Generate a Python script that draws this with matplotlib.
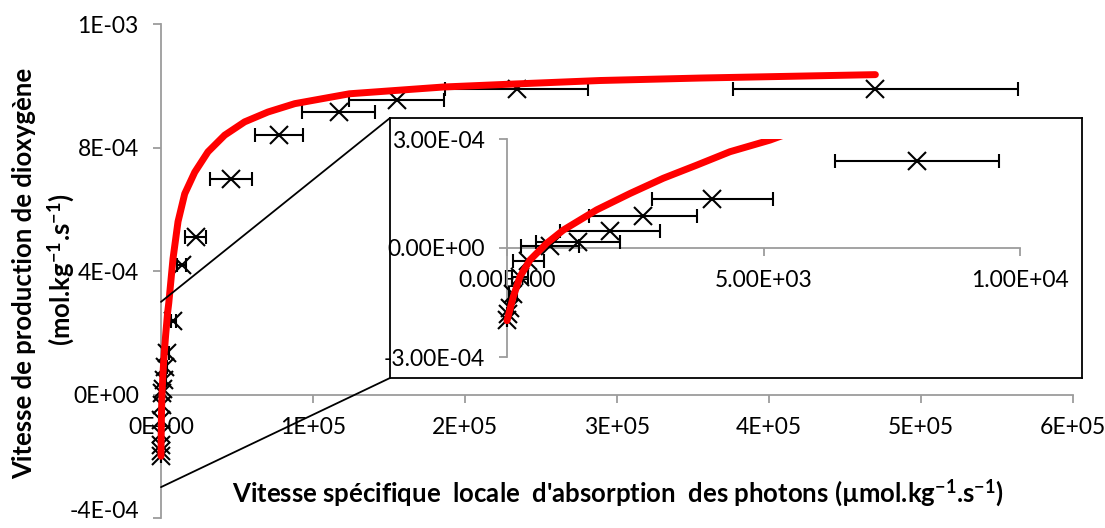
import matplotlib
matplotlib.use('Agg')
import matplotlib.pyplot as plt
from matplotlib.patches import ConnectionPatch

plt.rcParams['font.family'] = ['Lato', 'DejaVu Sans']
plt.rcParams['mathtext.fontset'] = 'custom'
plt.rcParams['mathtext.rm'] = 'Lato'
plt.rcParams['mathtext.bf'] = 'Lato:bold'
plt.rcParams['mathtext.it'] = 'Lato:italic'

# points mesures (x, y, erreur sur x)
x_mes = [470000, 234000, 155000, 117000, 77600, 46000, 22800, 13600, 8000, 4000,
         2650, 2000, 1380, 840, 416, 253, 123, 59, 20, 0]
y_mes = [9.9e-4, 9.9e-4, 9.53e-4, 9.15e-4, 8.42e-4, 6.98e-4, 5.1e-4, 4.2e-4, 2.39e-4, 1.35e-4,
         8.8e-5, 4.7e-5, 1.65e-5, 5e-6, -3.5e-5, -8.1e-5, -1.27e-4, -1.64e-4, -1.83e-4, -1.99e-4]
x_err = [94000, 47000, 31000, 24000, 15600, 14000, 7000, 3000, 1600, 1180,
         1050, 975, 820, 570, 305, 150, 80, 40, 15, 0]

# courbe du modele
x_mod = [0, 123, 253, 448, 774, 1099, 1749, 2398, 3047, 3697, 4347, 5127, 7900, 11200,
         15600, 22200, 30900, 41900, 55000, 70400, 88000, 124000, 186000, 234000, 289000,
         355000, 470000]
y_mod = [-2.0e-4, -1.34e-4, -7.9e-5, -3.3e-5, 1.3e-5, 4.95e-5, 1.05e-4, 1.5e-4, 1.92e-4,
         2.28e-4, 2.65e-4, 2.97e-4, 4.4e-4, 5.6e-4, 6.5e-4, 7.2e-4, 7.86e-4, 8.4e-4,
         8.83e-4, 9.15e-4, 9.42e-4, 9.74e-4, 9.96e-4, 1.006e-3, 1.017e-3, 1.025e-3, 1.036e-3]

xticks = [0, 1e5, 2e5, 3e5, 4e5, 5e5, 6e5]
xlabels = ['0E+00', '1E+05', '2E+05', '3E+05', '4E+05', '5E+05', '6E+05']
yticks = [-4e-4, 0, 4e-4, 8e-4, 1.2e-3]
ylabels = ['-4E-04', '0E+00', '4E-04', '8E-04', '1E-03']
zx_ticks = [0, 5e3, 1e4]
zx_labels = ['0.00E+00', '5.00E+03', '1.00E+04']
zy_ticks = [-3e-4, 0, 3e-4]
zy_labels = ['-3.00E-04', '0.00E+00', '3.00E-04']

W, H = 1105, 528
fig = plt.figure(figsize=(W / 100, H / 100), dpi=100)


def rect(l, t, r, b):
    return [l / W, 1 - b / H, (r - l) / W, (b - t) / H]


gris = '#9c9c9c'


def style(a):
    a.spines['top'].set_visible(False)
    a.spines['right'].set_visible(False)
    a.spines['bottom'].set_position(('data', 0))
    for s in ['left', 'bottom']:
        a.spines[s].set_color(gris)
        a.spines[s].set_linewidth(1.3)
    a.tick_params(direction='out', length=6, width=1.3, color=gris,
                  labelsize=16.5, pad=10, labelcolor='black')
    a.patch.set_alpha(0)


def trace(a, clip):
    eb = a.errorbar(x_mes, y_mes, xerr=x_err, fmt='x', color='black', ms=13, mew=1.5,
                    elinewidth=1.5, capsize=5, capthick=1.5, zorder=3)
    line, caps, bars = eb
    for art in [line, *caps, *bars]:
        art.set_clip_on(clip)
    a.plot(x_mod, y_mod, color='red', lw=5, solid_capstyle='round',
           solid_joinstyle='round', zorder=4, clip_on=clip)


# graphe principal
ax = fig.add_axes(rect(161, 24, 1073, 518))
style(ax)
trace(ax, False)
ax.set_xlim(0, 6e5)
ax.set_ylim(-4e-4, 1.2e-3)
ax.set_xticks(xticks)
ax.set_xticklabels(xlabels)
ax.set_yticks(yticks)
ax.set_yticklabels(ylabels)
# dernier label en bas : remonte un peu pour rester dans l'image
ax.get_yticklabels()[0].set_verticalalignment('baseline')

# cadre du zoom
cadre = fig.add_axes(rect(390, 118, 1082, 378), zorder=2)
cadre.set_xticks([])
cadre.set_yticks([])
for s in cadre.spines.values():
    s.set_color('black')
    s.set_linewidth(1.3)

# zoom
x0 = -400
left_px = 507 + x0 * 513 / 1e4
ax2 = fig.add_axes(rect(left_px, 139, 1020, 357), zorder=3)
style(ax2)
ax2.spines['left'].set_position(('data', 0))
ax2.spines['bottom'].set_bounds(0, 1e4)
trace(ax2, True)
ax2.set_xlim(x0, 1e4)
ax2.set_ylim(-3e-4, 3e-4)
ax2.set_xticks(zx_ticks)
ax2.set_xticklabels(zx_labels)
ax2.set_yticks(zy_ticks)
ax2.set_yticklabels(zy_labels)

for ya, yb in [(3e-4, 1), (-3e-4, 0)]:
    con = ConnectionPatch(xyA=(0, ya), coordsA=ax.transData, xyB=(0, yb),
                          coordsB=cadre.transAxes, color='black', lw=1.3, zorder=1.5)
    fig.add_artist(con)

fig.text(618 / W, 1 - 493 / H,
         "Vitesse spécifique  locale  d'absorption  des photons (µmol.kg$^{\\mathbf{-1}}$.s$^{\\mathbf{-1}}$)",
         ha='center', va='center', fontsize=18.5, fontweight='bold')
fig.text(24 / W, 1 - 273 / H, 'Vitesse de production de dioxygène', rotation=90,
         ha='center', va='center', fontsize=18.5, fontweight='bold')
fig.text(61 / W, 1 - 270 / H, '(mol.kg$^{\\mathbf{-1}}$.s$^{\\mathbf{-1}}$)', rotation=90,
         ha='center', va='center', fontsize=18.5, fontweight='bold')

fig.savefig('out.png', dpi=100)
